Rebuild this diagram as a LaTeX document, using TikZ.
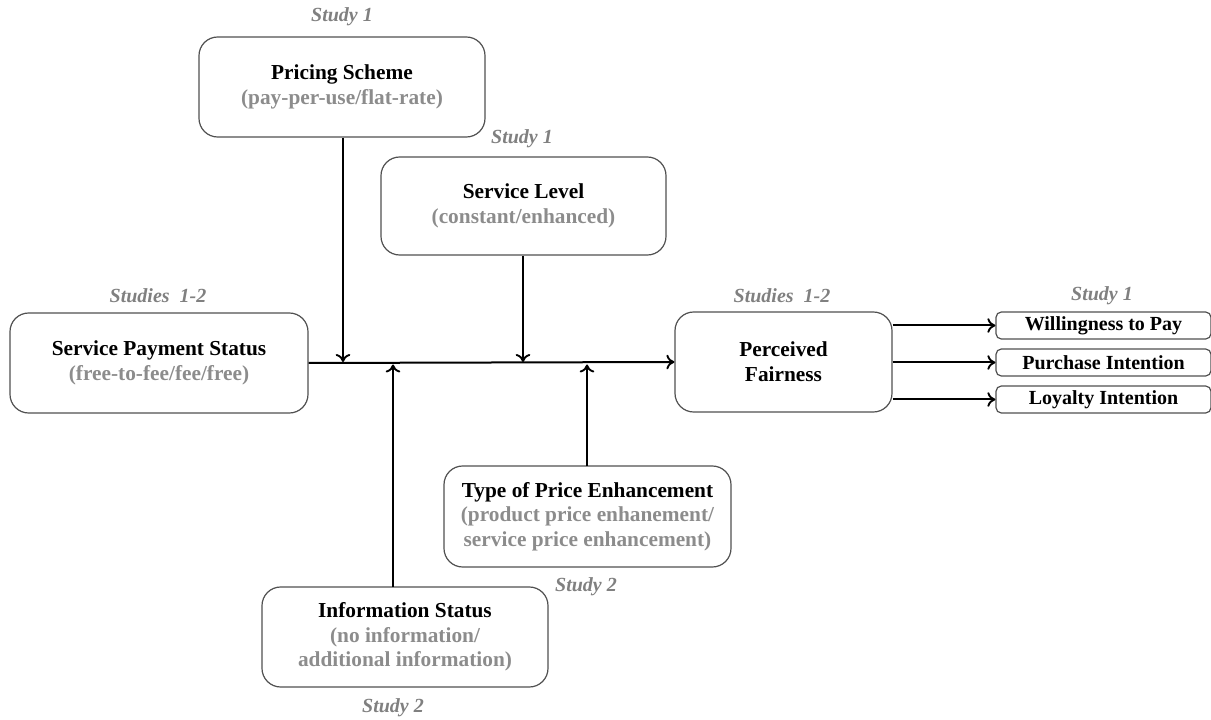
\documentclass[tikz,border=0pt]{standalone}
\usepackage{fontspec}
\setmainfont{Liberation Serif}
\usetikzlibrary{arrows.meta}
\definecolor{subgray}{HTML}{8C8C8C}
\definecolor{studygray}{HTML}{808080}
\definecolor{framegray}{HTML}{505050}
\tikzset{
  varbox/.style={draw=framegray, line width=0.9pt, rounded corners=14pt,
    align=center, inner sep=0pt, font=\fontsize{16}{18.5}\selectfont\bfseries},
  outbox/.style={draw=framegray, line width=0.9pt, rounded corners=4pt,
    align=center, inner sep=0pt, font=\fontsize{15}{17}\selectfont\bfseries},
  studylbl/.style={text=studygray, font=\fontsize{15}{17}\selectfont\bfseries\itshape},
  link/.style={line width=1.5pt, -{To[length=6pt,width=11pt,line width=1.4pt]}},
  boxsize/.style n args={2}{minimum width=#1*0.75pt, minimum height=#2*0.75pt}
}
\newcommand{\sub}[1]{\textcolor{subgray}{#1}}
\begin{document}
\begin{tikzpicture}[x=0.75pt,y=-0.75pt]
\useasboundingbox (0,0) rectangle (1211,720);

% predictor and moderator boxes
\node[varbox, boxsize={286}{100}] (ps) at (342,87)
  {Pricing Scheme\\\sub{(pay-per-use/flat-rate)}};
\node[varbox, boxsize={285}{98}] (sl) at (523.5,206)
  {Service Level\\\sub{(constant/enhanced)}};
\node[varbox, boxsize={298}{100}] (sps) at (159,363)
  {Service Payment Status\\\sub{(free-to-fee/fee/free)}};
\node[varbox, boxsize={217}{100}] (pf) at (783.5,362)
  {Perceived\\Fairness};
\node[varbox, boxsize={287}{101}] (tpe) at (587.5,516.5)
  {Type of Price Enhancement\\\sub{(product price enhanement/}\\\sub{service price enhancement)}};
\node[varbox, boxsize={286}{100}] (is) at (405,637)
  {Information Status\\\sub{(no information/}\\\sub{additional information)}};

% outcome boxes
\node[outbox, boxsize={215}{27}] (wtp) at (1103.5,325.5) {Willingness to Pay};
\node[outbox, boxsize={215}{27}] (pi) at (1103.5,362.5) {Purchase Intention};
\node[outbox, boxsize={215}{27}] (li) at (1103.5,399.5) {Loyalty Intention};

% study labels
\node[studylbl] (lps) at (342,17) {Study 1};
\node[studylbl] (lsl) at (522,139) {Study 1};
\node[studylbl] (lsps) at (158,296) {Studies\ \ 1-2};
\node[studylbl] (lpf) at (782,296) {Studies\ \ 1-2};
\node[studylbl] (lout) at (1102,296) {Study 1};
\node[studylbl] (ltpe) at (586,587) {Study 2};
\node[studylbl] (lis) at (393,708) {Study 2};

% junctions on the main path
\coordinate (jps) at (343,362);
\coordinate (jsl) at (523,362);
\coordinate (jis) at (393,364.5);
\coordinate (jtpe) at (587,364.5);
\coordinate (bis) at (393,587);
\coordinate (btpe) at (587,466);

% main path
\draw[link] (sps.east) -- (pf.west);
% moderating effects
\draw[link] (ps.south -| jps) -- (jps);
\draw[link] (sl.south -| jsl) -- (jsl);
\draw[link] (bis) -- (jis);
\draw[link] (btpe) -- (jtpe);
% outcomes
\draw[link] (pf.east |- wtp.west) -- (wtp.west);
\draw[link] (pf.east |- pi.west) -- (pi.west);
\draw[link] (pf.east |- li.west) -- (li.west);
\end{tikzpicture}
\end{document}
